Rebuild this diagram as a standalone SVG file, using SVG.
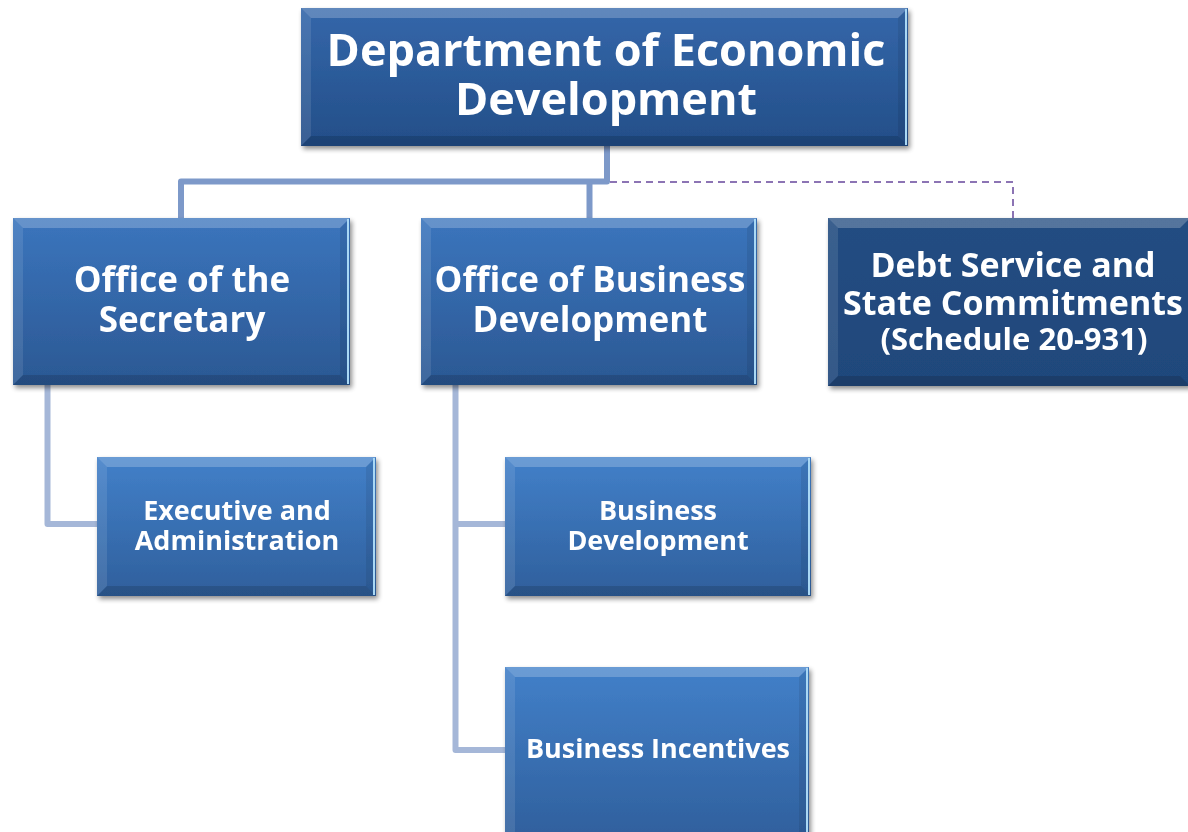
<svg xmlns="http://www.w3.org/2000/svg" width="1188" height="832" viewBox="0 0 1188 832">
<defs>
  <linearGradient id="gTop" x1="0" y1="0" x2="0" y2="1">
    <stop offset="0" stop-color="#3467aa"/>
    <stop offset="1" stop-color="#234e88"/>
  </linearGradient>
  <linearGradient id="gMid" x1="0" y1="0" x2="0" y2="1">
    <stop offset="0" stop-color="#3b75bd"/>
    <stop offset="1" stop-color="#2b5893"/>
  </linearGradient>
  <linearGradient id="gChild" x1="0" y1="0" x2="0" y2="1">
    <stop offset="0" stop-color="#4280c9"/>
    <stop offset="1" stop-color="#2f5f9c"/>
  </linearGradient>
  <linearGradient id="gDebt" x1="0" y1="0" x2="0" y2="1">
    <stop offset="0" stop-color="#244d82"/>
    <stop offset="1" stop-color="#1f477b"/>
  </linearGradient>
  <filter id="shadow" x="-10%" y="-10%" width="120%" height="125%">
    <feGaussianBlur in="SourceAlpha" stdDeviation="2.5"/>
    <feOffset dx="2" dy="3" result="b"/>
    <feComponentTransfer><feFuncA type="linear" slope="0.45"/></feComponentTransfer>
    <feMerge><feMergeNode/><feMergeNode in="SourceGraphic"/></feMerge>
  </filter>
</defs>
<style>
  .bt { fill: #ffffff; fill-opacity: 0.22; }
  .bl { fill: #ffffff; fill-opacity: 0.10; }
  .br { fill: #000000; fill-opacity: 0.08; }
  .bb { fill: #000000; fill-opacity: 0.14; }
  .hl { stroke: #a9d8f5; stroke-width: 2; fill: none; }
  .t { font-family: "Open Sans", "Liberation Sans", sans-serif; font-weight: 700; fill: #ffffff; text-anchor: middle; }
  .c1 { fill: none; stroke: #7d99c9; stroke-width: 6; stroke-linejoin: round; }
  .c2 { fill: none; stroke: #a5b7d8; stroke-width: 6; stroke-linejoin: round; }
  .cd { fill: none; stroke: #8c74b4; stroke-width: 2; stroke-dasharray: 7 5; }
</style>

<g id="connectors">
  <polyline class="c1" points="607,146 607,181.5 181,181.5 181,218"/>
  <polyline class="c1" points="589.5,181.5 589.5,218"/>
  <polyline class="cd" points="610,182 1013,182 1013,218"/>
  <polyline class="c2" points="47.5,385 47.5,524 97,524"/>
  <polyline class="c2" points="455.5,385 455.5,750 505,750"/>
  <polyline class="c2" points="455.5,524 505,524"/>
</g>

<g id="node-dept" filter="url(#shadow)">
  <rect x="301" y="8" width="607" height="138" fill="url(#gTop)"/>
  <polygon class="bt" points="301,8 908,8 898,18 311,18"/>
  <polygon class="bl" points="301,8 311,18 311,136 301,146"/>
  <polygon class="br" points="908,8 908,146 898,136 898,18"/>
  <polygon class="bb" points="301,146 908,146 898,136 311,136"/>
  <line class="hl" x1="906" y1="9" x2="906" y2="145"/>
  <text class="t" font-size="45"><tspan x="606" y="66">Department of Economic</tspan><tspan x="606" y="115">Development</tspan></text>
</g>

<g id="node-secretary" filter="url(#shadow)">
  <rect x="13" y="218" width="337" height="167" fill="url(#gMid)"/>
  <polygon class="bt" points="13,218 350,218 340,228 23,228"/>
  <polygon class="bl" points="13,218 23,228 23,375 13,385"/>
  <polygon class="br" points="350,218 350,385 340,375 340,228"/>
  <polygon class="bb" points="13,385 350,385 340,375 23,375"/>
  <line class="hl" x1="348" y1="219" x2="348" y2="384"/>
  <text class="t" font-size="35"><tspan x="182" y="292">Office of the</tspan><tspan x="182" y="332">Secretary</tspan></text>
</g>

<g id="node-obd" filter="url(#shadow)">
  <rect x="421" y="218" width="336" height="167" fill="url(#gMid)"/>
  <polygon class="bt" points="421,218 757,218 747,228 431,228"/>
  <polygon class="bl" points="421,218 431,228 431,375 421,385"/>
  <polygon class="br" points="757,218 757,385 747,375 747,228"/>
  <polygon class="bb" points="421,385 757,385 747,375 431,375"/>
  <line class="hl" x1="755" y1="219" x2="755" y2="384"/>
  <text class="t" font-size="35"><tspan x="590" y="292">Office of Business</tspan><tspan x="590" y="332">Development</tspan></text>
</g>

<g id="node-debt" filter="url(#shadow)">
  <rect x="828" y="218" width="362" height="168" fill="url(#gDebt)"/>
  <polygon class="bt" points="828,218 1190,218 1180,228 838,228"/>
  <polygon class="bl" points="828,218 838,228 838,376 828,386"/>
  <polygon class="bb" points="828,386 1190,386 1180,376 838,376"/>
  <text class="t" font-size="34"><tspan x="1013" y="277">Debt Service and</tspan><tspan x="1013" y="315">State Commitments</tspan><tspan x="1014" y="350" font-size="31">(Schedule 20-931)</tspan></text>
</g>

<g id="node-exec" filter="url(#shadow)">
  <rect x="97" y="457" width="279" height="139" fill="url(#gChild)"/>
  <polygon class="bt" points="97,457 376,457 366,467 107,467"/>
  <polygon class="bl" points="97,457 107,467 107,586 97,596"/>
  <polygon class="br" points="376,457 376,596 366,586 366,467"/>
  <polygon class="bb" points="97,596 376,596 366,586 107,586"/>
  <line class="hl" x1="374" y1="458" x2="374" y2="595"/>
  <text class="t" font-size="27"><tspan x="237" y="520">Executive and</tspan><tspan x="237" y="550">Administration</tspan></text>
</g>

<g id="node-bizdev" filter="url(#shadow)">
  <rect x="505" y="457" width="306" height="139" fill="url(#gChild)"/>
  <polygon class="bt" points="505,457 811,457 801,467 515,467"/>
  <polygon class="bl" points="505,457 515,467 515,586 505,596"/>
  <polygon class="br" points="811,457 811,596 801,586 801,467"/>
  <polygon class="bb" points="505,596 811,596 801,586 515,586"/>
  <line class="hl" x1="809" y1="458" x2="809" y2="595"/>
  <text class="t" font-size="27"><tspan x="658" y="520">Business</tspan><tspan x="658" y="550">Development</tspan></text>
</g>

<g id="node-incentives" filter="url(#shadow)">
  <rect x="505" y="667" width="304" height="175" fill="url(#gChild)"/>
  <polygon class="bt" points="505,667 809,667 799,677 515,677"/>
  <polygon class="bl" points="505,667 515,677 515,842 505,842"/>
  <polygon class="br" points="809,667 809,842 799,842 799,677"/>
  <line class="hl" x1="807" y1="668" x2="807" y2="842"/>
  <text class="t" x="658" y="758" font-size="27">Business Incentives</text>
</g>
</svg>
